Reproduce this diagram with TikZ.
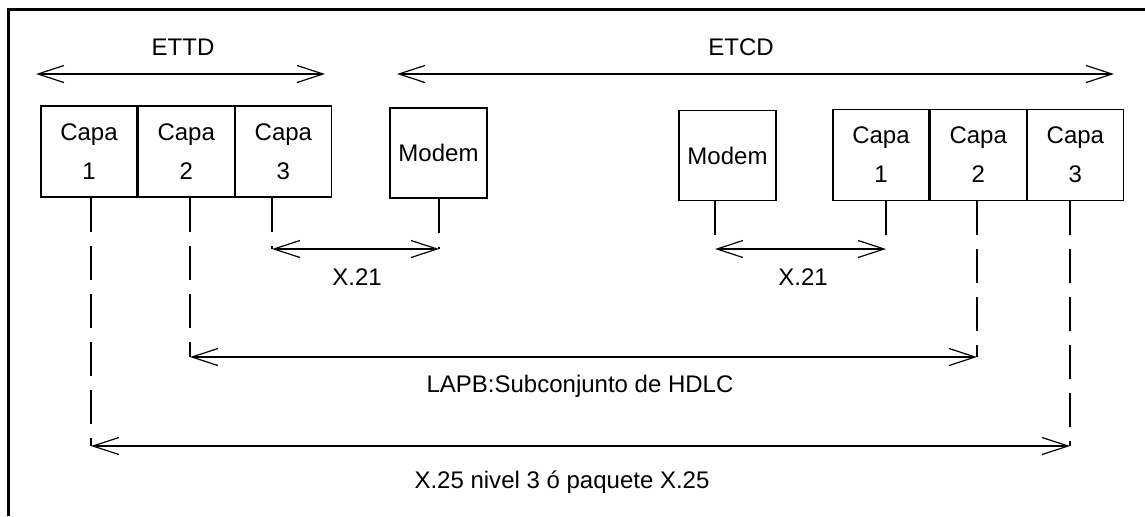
\documentclass[tikz,border=0pt]{standalone}
\usepackage{fontspec}
\setmainfont{Liberation Sans}
\usetikzlibrary{arrows.meta, positioning}
\tikzset{
	every node/.style={
		font=\fontsize{12}{19.5}\selectfont
	},
	capa/.style={
		shape=rectangle,
		minimum width=48pt,
		minimum height=45.5pt,
		text width=40pt,
		text centered,
		inner sep=0pt,
		line width=0.6pt,
		draw
	},
	modem/.style={
		shape=rectangle,
		minimum width=48.5pt,
		minimum height=45pt,
		text width=44pt,
		text centered,
		inner sep=0pt,
		line width=0.6pt,
		draw
	},
	cota/.style={
		{Straight Barb[length=13pt,width=8.5pt]}-{Straight Barb[length=13pt,width=8.5pt]},
		line width=0.6pt
	},
	guia/.style={
		dash pattern=on 17pt off 7pt,
		line width=0.6pt
	},
	marco/.style={
		line width=1.5pt
	}
}

\begin{document}
\begin{tikzpicture}[x=0.5pt, y=-0.5pt, node distance=0pt]
	\useasboundingbox (0,0) rectangle (1145,516);
	\draw[marco] (8,516) |- (1145,9);

	% ETTD
	\node[capa] (e1) at (89,151.5) {Capa\\1};
	\node[capa, right=of e1] (e2) {Capa\\2};
	\node[capa, right=of e2] (e3) {Capa\\3};
	\node[modem] (m1) at (438.5,153) {Modem};

	% ETCD
	\node[modem] (m2) at (727.5,155.5) {Modem};
	\node[capa] (t1) at (881,155) {Capa\\1};
	\node[capa, right=of t1] (t2) {Capa\\2};
	\node[capa, right=of t2] (t3) {Capa\\3};

	\coordinate (ettdA) at (36,74);
	\coordinate (ettdB) at (325,74);
	\coordinate (etcdA) at (397,74);
	\coordinate (etcdB) at (1114,74);
	\coordinate (x21A) at (272,249);
	\coordinate (x21B) at (439,249);
	\coordinate (x21C) at (715,249);
	\coordinate (x21D) at (886,249);
	\coordinate (lapbA) at (190,357);
	\coordinate (lapbB) at (977,357);
	\coordinate (x25A) at (91,446);
	\coordinate (x25B) at (1070,446);

	\draw[cota] (ettdA) -- (ettdB);
	\draw[cota] (etcdA) -- (etcdB);
	\node (ettd) at (183,47) {ETTD};
	\node (etcd) at (741,47) {ETCD};

	% lineas de cota
	\draw[guia] (x21A |- e3.south) -- (x21A);
	\draw[guia] (x21B |- m1.south) -- (x21B);
	\draw[guia] (x21C |- m2.south) -- (x21C);
	\draw[guia] (x21D |- t1.south) -- (x21D);
	\draw[guia] (lapbA |- e2.south) -- (lapbA);
	\draw[guia] (lapbB |- t2.south) -- (lapbB);
	\draw[guia] (x25A |- e1.south) -- (x25A);
	\draw[guia] (x25B |- t3.south) -- (x25B);

	\draw[cota] (x21A) -- (x21B);
	\draw[cota] (x21C) -- (x21D);
	\draw[cota] (lapbA) -- (lapbB);
	\draw[cota] (x25A) -- (x25B);

	\node (x21i) at (357,277) {X.21};
	\node (x21d) at (803,277) {X.21};
	\node (lapb) at (580,386) {LAPB:Subconjunto de HDLC};
	\node (x25) at (562,482) {X.25 nivel 3 ó paquete X.25};
\end{tikzpicture}
\end{document}
